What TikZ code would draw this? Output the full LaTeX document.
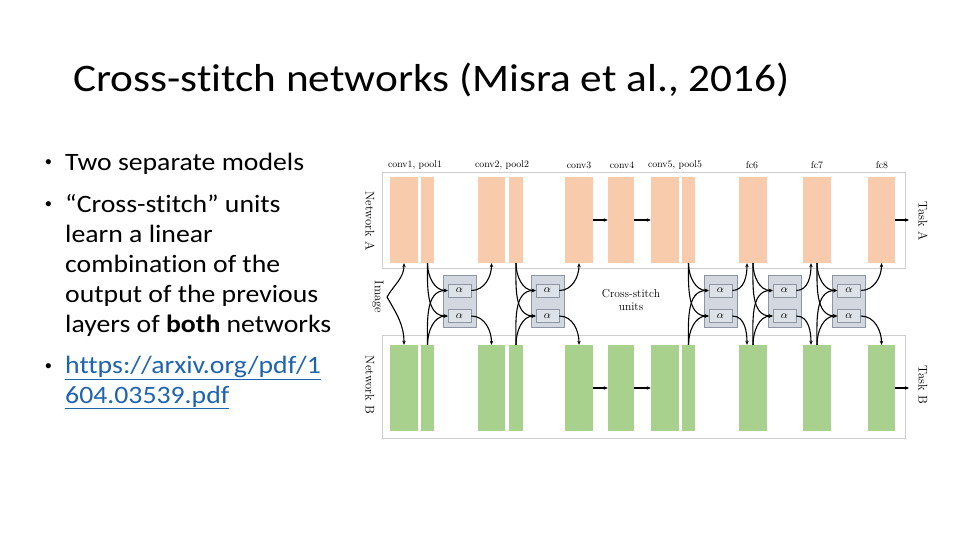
\documentclass[tikz,border=0pt]{standalone}
\usepackage{fontspec}
\setmainfont[FakeStretch=1.11, Ligatures={NoCommon}]{Carlito}
\newfontfamily\paperfont{Latin Modern Roman}
\newfontfamily\bulletfont{Liberation Sans}
\usetikzlibrary{arrows.meta}
\definecolor{orangeblk}{HTML}{F8CBAD}
\definecolor{greenblk}{HTML}{A9D18E}
\definecolor{framegray}{HTML}{CFCFCF}
\definecolor{unitfill}{HTML}{D3D8E0}
\definecolor{unitdraw}{HTML}{8E96A4}
\definecolor{alphafill}{HTML}{DDE1E8}
\definecolor{linkblue}{HTML}{1F64AE}
\newcommand\stitch[5]{%
  \draw[conn] (#2) to[out=-90,in=180] (#1t.west);
  \draw[conn] (#2) to[out=-90,in=180] (#1b.west);
  \draw[conn] (#3) to[out=90,in=180] (#1t.west);
  \draw[conn] (#3) to[out=90,in=180] (#1b.west);
  \draw[conn] (#1t.east) to[out=0,in=-90] (#4);
  \draw[conn] (#1b.east) to[out=0,in=90] (#5);
}
\newcommand\unitbox[2]{%
  \node[unitbox] (#1) at (#2,-301) {};
  \node[alphabox] (#1t) at (#2,-290.5) {$\alpha$};
  \node[alphabox] (#1b) at (#2,-316) {$\alpha$};
}
\begin{document}
\begin{tikzpicture}[x=1pt,y=1pt,
  oblk/.style={fill=orangeblk, draw=none, minimum height=86pt, inner sep=0pt},
  gblk/.style={fill=greenblk, draw=none, minimum height=86pt, inner sep=0pt},
  netframe/.style={draw=framegray, line width=1pt, fill=white},
  unitbox/.style={fill=unitfill, draw=unitdraw, line width=0.6pt, minimum width=33pt, minimum height=52pt, inner sep=0pt},
  alphabox/.style={fill=alphafill, draw=unitdraw, line width=0.6pt, minimum width=23pt, minimum height=13pt, inner sep=0pt, font=\paperfont\fontsize{11}{11}\selectfont},
  conn/.style={line width=1.1pt, -{Stealth[length=4pt,width=3.5pt]}},
  flow/.style={line width=1.1pt, -{Stealth[length=4pt,width=3.5pt]}},
  lbl/.style={font=\paperfont\fontsize{9.8}{11}\selectfont, inner sep=0pt},
  sidelbl/.style={font=\paperfont\fontsize{12.6}{13}\selectfont, inner sep=0pt, rotate=-90},
  bodytext/.style={font=\fontsize{25}{30}\selectfont, anchor=base west, inner sep=0pt, align=left},
  bulletmark/.style={font=\bulletfont\fontsize{19}{20}\selectfont, anchor=base west, inner sep=0pt}
]
\useasboundingbox (0,0) rectangle (960,-540);
\fill[white] (0,0) rectangle (960,-540);

% title
\node[anchor=base west, inner sep=0pt, font=\fontsize{39}{44}\selectfont] (title) at (73,-92) {Cross-stitch networks (Misra et al., 2016)};

% bullets
\node[bulletmark] (b1) at (45,-169) {•};
\node[bodytext] (t1) at (65,-171) {Two separate models};
\node[bulletmark] (b2) at (45,-210) {•};
\node[bodytext] (t2) at (65,-332) {“Cross-stitch” units\\learn a linear\\combination of the\\output of the previous\\layers of \textbf{both} networks};
\node[bulletmark] (b3) at (45,-372) {•};
\node[bodytext, text=linkblue] (t3) at (65,-403) {\underline{https://arxiv.org/pdf/1}\\\underline{604.03539.pdf}};

% frames
\node[netframe, minimum width=523pt, minimum height=95pt, inner sep=0pt] (frA) at (643.5,-220.5) {};
\node[netframe, minimum width=523pt, minimum height=103pt, inner sep=0pt] (frB) at (643.5,-386.5) {};

% network A blocks
\node[oblk, minimum width=28pt] (c1a) at (404,-220) {};
\node[oblk, minimum width=13pt] (p1a) at (427.5,-220) {};
\node[oblk, minimum width=27pt] (c2a) at (491.5,-220) {};
\node[oblk, minimum width=14pt] (p2a) at (516,-220) {};
\node[oblk, minimum width=28pt] (c3a) at (579,-220) {};
\node[oblk, minimum width=26pt] (c4a) at (621,-220) {};
\node[oblk, minimum width=28pt] (c5a) at (665,-220) {};
\node[oblk, minimum width=13pt] (p5a) at (688.5,-220) {};
\node[oblk, minimum width=28pt] (f6a) at (753,-220) {};
\node[oblk, minimum width=28pt] (f7a) at (817,-220) {};
\node[oblk, minimum width=27pt] (f8a) at (881.5,-220) {};

% network B blocks
\node[gblk, minimum width=28pt] (c1b) at (404,-388) {};
\node[gblk, minimum width=13pt] (p1b) at (427.5,-388) {};
\node[gblk, minimum width=27pt] (c2b) at (491.5,-388) {};
\node[gblk, minimum width=14pt] (p2b) at (516,-388) {};
\node[gblk, minimum width=28pt] (c3b) at (579,-388) {};
\node[gblk, minimum width=26pt] (c4b) at (621,-388) {};
\node[gblk, minimum width=28pt] (c5b) at (665,-388) {};
\node[gblk, minimum width=13pt] (p5b) at (688.5,-388) {};
\node[gblk, minimum width=28pt] (f6b) at (753,-388) {};
\node[gblk, minimum width=28pt] (f7b) at (817,-388) {};
\node[gblk, minimum width=27pt] (f8b) at (881.5,-388) {};

% layer labels
\node[lbl] (l1) at (415,-165) {conv1, pool1};
\node[lbl] (l2) at (502,-165) {conv2, pool2};
\node[lbl] (l3) at (579,-165) {conv3};
\node[lbl] (l4) at (622,-165) {conv4};
\node[lbl] (l5) at (675,-165) {conv5, pool5};
\node[lbl] (l6) at (752,-165) {fc6};
\node[lbl] (l7) at (817,-165) {fc7};
\node[lbl] (l8) at (882,-165) {fc8};

% side labels
\node[sidelbl] (netA) at (370,-221) {Network A};
\node[sidelbl] (netB) at (370,-385) {Network B};
\node[sidelbl] (taskA) at (923,-221) {Task A};
\node[sidelbl] (taskB) at (923,-385) {Task B};
\node[sidelbl] (img) at (378,-297) {Image};
\node[font=\paperfont\fontsize{11.5}{13}\selectfont, align=center, inner sep=0pt] (csu) at (631,-300) {Cross-stitch\\units};

% sequential flow arrows
\draw[flow] (c3a.east) -- (c4a.west);
\draw[flow] (c4a.east) -- (c5a.west);
\coordinate (outA) at (909,-220);
\draw[flow] (f8a.east) -- (outA);
\draw[flow] (c3b.east) -- (c4b.west);
\draw[flow] (c4b.east) -- (c5b.west);
\coordinate (outB) at (909,-388);
\draw[flow] (f8b.east) -- (outB);

% image inputs
\coordinate (imgpt) at (387,-297);
\draw[conn] (imgpt) to[out=60,in=-90] (c1a.south);
\draw[conn] (imgpt) to[out=-60,in=90] (c1b.north);

% cross-stitch units
\unitbox{u1}{459.5}
\unitbox{u2}{547.5}
\unitbox{u3}{720.5}
\unitbox{u4}{784.5}
\unitbox{u5}{849}

\stitch{u1}{p1a.south}{p1b.north}{c2a.south}{c2b.north}
\stitch{u2}{p2a.south}{p2b.north}{c3a.south}{c3b.north}
\stitch{u3}{p5a.south}{p5b.north}{[xshift=-6pt]f6a.south}{[xshift=-6pt]f6b.north}
\stitch{u4}{f6a.south}{f6b.north}{[xshift=-6pt]f7a.south}{[xshift=-6pt]f7b.north}
\stitch{u5}{f7a.south}{f7b.north}{f8a.south}{f8b.north}
\end{tikzpicture}
\end{document}
